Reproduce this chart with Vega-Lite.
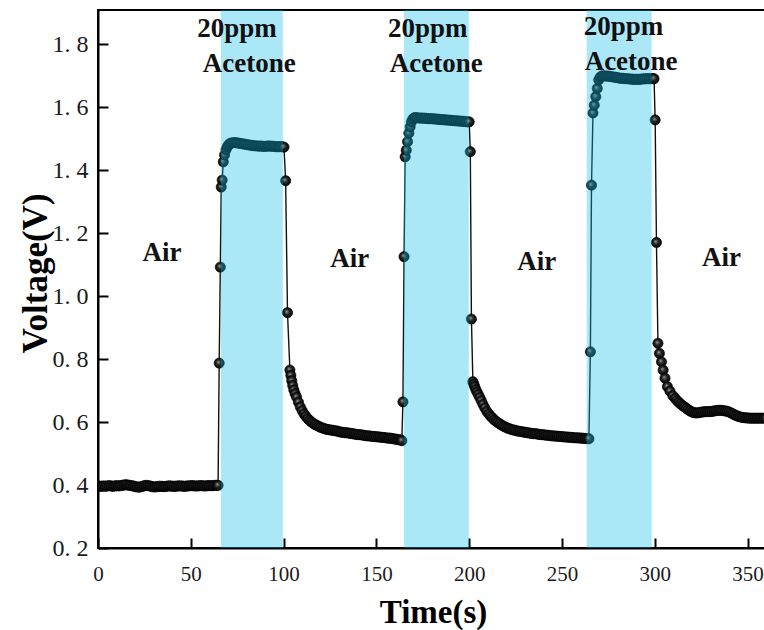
{
  "$schema": "https://vega.github.io/schema/vega-lite/v6.json",
  "width": 670,
  "height": 538,
  "autosize": {"type": "none"},
  "padding": {"left": 98, "top": 10, "right": 0, "bottom": 82},
  "background": "white",
  "config": {
    "font": "Liberation Serif",
    "view": {"stroke": "black", "strokeWidth": 2},
    "axis": {
      "zindex": 1,
      "grid": false,
      "domainColor": "black",
      "domainWidth": 2,
      "tickColor": "black",
      "tickWidth": 2,
      "tickSize": -10,
      "labelFlush": false,
      "labelColor": "#1a1a1a",
      "labelFont": "Liberation Serif",
      "titleFont": "Liberation Serif",
      "titleFontWeight": "bold",
      "titleColor": "black"
    }
  },
  "datasets": {
    "signal": [
      {"t":0,"v":0.397},{"t":1,"v":0.396},{"t":2,"v":0.396},{"t":3,"v":0.397},{"t":4,"v":0.396},{"t":5,"v":0.397},{"t":6,"v":0.398},{"t":7,"v":0.397},{"t":8,"v":0.396},{"t":9,"v":0.397},
      {"t":10,"v":0.398},{"t":11,"v":0.397},{"t":12,"v":0.398},{"t":13,"v":0.399},{"t":14,"v":0.4},{"t":15,"v":0.401},{"t":16,"v":0.4},{"t":17,"v":0.399},{"t":18,"v":0.398},{"t":19,"v":0.397},
      {"t":20,"v":0.395},{"t":21,"v":0.394},{"t":22,"v":0.393},{"t":23,"v":0.394},{"t":24,"v":0.396},{"t":25,"v":0.398},{"t":26,"v":0.399},{"t":27,"v":0.398},{"t":28,"v":0.397},{"t":29,"v":0.395},
      {"t":30,"v":0.394},{"t":31,"v":0.394},{"t":32,"v":0.395},{"t":33,"v":0.396},{"t":34,"v":0.396},{"t":35,"v":0.395},{"t":36,"v":0.395},{"t":37,"v":0.396},{"t":38,"v":0.397},{"t":39,"v":0.397},
      {"t":40,"v":0.396},{"t":41,"v":0.396},{"t":42,"v":0.396},{"t":43,"v":0.397},{"t":44,"v":0.397},{"t":45,"v":0.397},{"t":46,"v":0.396},{"t":47,"v":0.396},{"t":48,"v":0.397},{"t":49,"v":0.397},
      {"t":50,"v":0.398},{"t":51,"v":0.398},{"t":52,"v":0.397},{"t":53,"v":0.397},{"t":54,"v":0.397},{"t":55,"v":0.398},{"t":56,"v":0.398},{"t":57,"v":0.397},{"t":58,"v":0.397},{"t":59,"v":0.398},
      {"t":60,"v":0.398},{"t":61,"v":0.398},{"t":62,"v":0.398},{"t":63,"v":0.399},{"t":64,"v":0.399},
      {"t":64.7,"v":0.399},{"t":65.3,"v":0.787},{"t":65.9,"v":1.092},{"t":66.4,"v":1.346},{"t":66.9,"v":1.368},{"t":67.5,"v":1.426},{"t":68.2,"v":1.448},{"t":69,"v":1.465},{"t":69.7,"v":1.474},
      {"t":70.3,"v":1.479},{"t":71,"v":1.484},{"t":72,"v":1.486},{"t":73,"v":1.487},{"t":74,"v":1.487},{"t":75,"v":1.486},{"t":76,"v":1.485},{"t":77,"v":1.484},{"t":78,"v":1.483},{"t":79,"v":1.482},
      {"t":80,"v":1.481},{"t":81,"v":1.48},{"t":82,"v":1.479},{"t":83,"v":1.478},{"t":84,"v":1.477},{"t":85,"v":1.477},{"t":86,"v":1.476},{"t":87,"v":1.476},{"t":88,"v":1.476},{"t":89,"v":1.475},
      {"t":90,"v":1.475},{"t":91,"v":1.476},{"t":92,"v":1.476},{"t":93,"v":1.476},{"t":94,"v":1.475},{"t":95,"v":1.475},{"t":96,"v":1.474},{"t":97,"v":1.474},{"t":98,"v":1.474},{"t":99,"v":1.474},
      {"t":100.2,"v":1.473},{"t":101.1,"v":1.366},{"t":102.1,"v":0.947},
      {"t":103.4,"v":0.765},{"t":103.9,"v":0.748},{"t":104.4,"v":0.731},{"t":104.9,"v":0.716},{"t":105.5,"v":0.702},{"t":106.2,"v":0.69},{"t":107,"v":0.679},{"t":108,"v":0.663},{"t":109,"v":0.648},
      {"t":110,"v":0.636},{"t":111,"v":0.626},{"t":112,"v":0.618},{"t":113,"v":0.611},{"t":114,"v":0.605},{"t":115,"v":0.6},{"t":116,"v":0.596},{"t":117,"v":0.592},{"t":118,"v":0.589},{"t":119,"v":0.586},
      {"t":120,"v":0.583},{"t":121,"v":0.581},{"t":122,"v":0.579},{"t":123,"v":0.577},{"t":124,"v":0.576},{"t":125,"v":0.575},{"t":126,"v":0.574},{"t":127,"v":0.573},{"t":128,"v":0.572},{"t":129,"v":0.571},
      {"t":130,"v":0.569},{"t":131,"v":0.568},{"t":132,"v":0.567},{"t":133,"v":0.566},{"t":134,"v":0.566},{"t":135,"v":0.565},{"t":136,"v":0.564},{"t":137,"v":0.563},{"t":138,"v":0.562},{"t":139,"v":0.561},
      {"t":140,"v":0.56},{"t":141,"v":0.56},{"t":142,"v":0.559},{"t":143,"v":0.558},{"t":144,"v":0.557},{"t":145,"v":0.556},{"t":146,"v":0.556},{"t":147,"v":0.555},{"t":148,"v":0.554},{"t":149,"v":0.554},
      {"t":150,"v":0.553},{"t":151,"v":0.553},{"t":152,"v":0.552},{"t":153,"v":0.551},{"t":154,"v":0.551},{"t":155,"v":0.55},{"t":156,"v":0.549},{"t":157,"v":0.549},{"t":158,"v":0.548},{"t":159,"v":0.547},
      {"t":160,"v":0.546},{"t":161,"v":0.545},{"t":162,"v":0.544},{"t":163,"v":0.543},
      {"t":163.7,"v":0.541},{"t":164.3,"v":0.664},{"t":164.9,"v":1.125},{"t":165.5,"v":1.442},{"t":166.1,"v":1.463},{"t":166.8,"v":1.49},{"t":167.5,"v":1.517},{"t":168.2,"v":1.537},{"t":168.9,"v":1.553},{"t":169.6,"v":1.562},{"t":170.5,"v":1.566},
      {"t":171,"v":1.566},{"t":172,"v":1.566},{"t":173,"v":1.565},{"t":174,"v":1.565},{"t":175,"v":1.565},{"t":176,"v":1.564},{"t":177,"v":1.564},{"t":178,"v":1.563},{"t":179,"v":1.563},
      {"t":180,"v":1.563},{"t":181,"v":1.562},{"t":182,"v":1.562},{"t":183,"v":1.561},{"t":184,"v":1.561},{"t":185,"v":1.56},{"t":186,"v":1.56},{"t":187,"v":1.559},{"t":188,"v":1.559},{"t":189,"v":1.558},
      {"t":190,"v":1.558},{"t":191,"v":1.557},{"t":192,"v":1.557},{"t":193,"v":1.556},{"t":194,"v":1.556},{"t":195,"v":1.555},{"t":196,"v":1.555},{"t":197,"v":1.554},{"t":198,"v":1.554},{"t":199,"v":1.553},
      {"t":200,"v":1.553},{"t":200.6,"v":1.458},{"t":201.2,"v":0.927},
      {"t":202,"v":0.728},{"t":202.5,"v":0.72},{"t":203,"v":0.712},{"t":203.6,"v":0.703},{"t":204.2,"v":0.695},{"t":204.9,"v":0.687},{"t":205.7,"v":0.678},{"t":206.5,"v":0.668},{"t":207.4,"v":0.656},{"t":208.4,"v":0.645},
      {"t":209.5,"v":0.634},{"t":210.5,"v":0.626},{"t":211.5,"v":0.619},{"t":212.5,"v":0.613},{"t":213.5,"v":0.607},{"t":214.5,"v":0.602},{"t":215.5,"v":0.598},{"t":216.5,"v":0.594},{"t":217.5,"v":0.59},{"t":218.5,"v":0.587},
      {"t":219.5,"v":0.584},{"t":220.5,"v":0.581},{"t":221.5,"v":0.579},{"t":222.5,"v":0.577},{"t":223.5,"v":0.575},{"t":224.5,"v":0.574},{"t":225.5,"v":0.572},{"t":226.5,"v":0.571},{"t":227.5,"v":0.57},{"t":228.5,"v":0.569},
      {"t":229.5,"v":0.568},{"t":230.5,"v":0.567},{"t":231.5,"v":0.566},{"t":232.5,"v":0.565},{"t":233.5,"v":0.564},{"t":234.5,"v":0.563},{"t":235.5,"v":0.563},{"t":236.5,"v":0.562},{"t":237.5,"v":0.561},{"t":238.5,"v":0.56},
      {"t":239.5,"v":0.56},{"t":240.5,"v":0.559},{"t":241.5,"v":0.558},{"t":242.5,"v":0.558},{"t":243.5,"v":0.557},{"t":244.5,"v":0.556},{"t":245.5,"v":0.556},{"t":246.5,"v":0.555},{"t":247.5,"v":0.555},{"t":248.5,"v":0.554},
      {"t":249.5,"v":0.554},{"t":250.5,"v":0.553},{"t":251.5,"v":0.553},{"t":252.5,"v":0.552},{"t":253.5,"v":0.552},{"t":254.5,"v":0.551},{"t":255.5,"v":0.551},{"t":256.5,"v":0.55},{"t":257.5,"v":0.55},{"t":258.5,"v":0.55},
      {"t":259.5,"v":0.549},{"t":260.5,"v":0.549},{"t":261.5,"v":0.548},{"t":262.5,"v":0.548},{"t":263.5,"v":0.547},{"t":264.5,"v":0.547},
      {"t":265.3,"v":0.823},{"t":265.9,"v":1.352},{"t":266.7,"v":1.581},{"t":267.4,"v":1.606},{"t":268.2,"v":1.633},{"t":269,"v":1.659},{"t":269.8,"v":1.686},{"t":270.6,"v":1.695},{"t":271.4,"v":1.698},
      {"t":272,"v":1.699},{"t":273,"v":1.699},{"t":274,"v":1.698},{"t":275,"v":1.698},{"t":276,"v":1.697},{"t":277,"v":1.696},{"t":278,"v":1.695},{"t":279,"v":1.694},
      {"t":280,"v":1.693},{"t":281,"v":1.692},{"t":282,"v":1.691},{"t":283,"v":1.691},{"t":284,"v":1.69},{"t":285,"v":1.69},{"t":286,"v":1.689},{"t":287,"v":1.689},{"t":288,"v":1.688},{"t":289,"v":1.688},
      {"t":290,"v":1.688},{"t":291,"v":1.688},{"t":292,"v":1.688},{"t":293,"v":1.689},{"t":294,"v":1.689},{"t":295,"v":1.69},{"t":296,"v":1.69},{"t":297,"v":1.69},{"t":298,"v":1.69},{"t":299,"v":1.69},
      {"t":299.6,"v":1.69},{"t":300.2,"v":1.559},{"t":300.9,"v":1.17},
      {"t":301.7,"v":0.85},{"t":302.5,"v":0.818},{"t":303.6,"v":0.791},{"t":304.5,"v":0.765},{"t":305.5,"v":0.739},{"t":306.8,"v":0.712},{"t":308.2,"v":0.698},{"t":309.7,"v":0.684},
      {"t":311,"v":0.675},{"t":312,"v":0.668},{"t":313,"v":0.662},{"t":314,"v":0.657},{"t":315,"v":0.652},{"t":316,"v":0.648},{"t":317,"v":0.643},{"t":318,"v":0.639},{"t":319,"v":0.635},
      {"t":320,"v":0.632},{"t":321,"v":0.63},{"t":322,"v":0.629},{"t":323,"v":0.629},{"t":324,"v":0.63},{"t":325,"v":0.631},{"t":326,"v":0.632},{"t":327,"v":0.633},{"t":328,"v":0.633},{"t":329,"v":0.633},
      {"t":330,"v":0.633},{"t":331,"v":0.634},{"t":332,"v":0.635},{"t":333,"v":0.636},{"t":334,"v":0.637},{"t":335,"v":0.637},{"t":336,"v":0.637},{"t":337,"v":0.636},{"t":338,"v":0.635},{"t":339,"v":0.634},
      {"t":340,"v":0.632},{"t":341,"v":0.629},{"t":342,"v":0.626},{"t":343,"v":0.623},{"t":344,"v":0.62},{"t":345,"v":0.618},{"t":346,"v":0.616},{"t":347,"v":0.615},{"t":348,"v":0.614},{"t":349,"v":0.613},
      {"t":350,"v":0.613},{"t":351,"v":0.612},{"t":352,"v":0.612},{"t":353,"v":0.612},{"t":354,"v":0.612},{"t":355,"v":0.612},{"t":356,"v":0.612},{"t":357,"v":0.612},{"t":358,"v":0.612},{"t":359,"v":0.612},
      {"t":360,"v":0.613}
    ],
    "exposures": [
      {"start": 66.2, "end": 99.6},
      {"start": 164.8, "end": 199.8},
      {"start": 263.3, "end": 298.3}
    ],
    "airNotes": [
      {"t": 34.5, "v": 1.137, "label": "Air"},
      {"t": 135.7, "v": 1.119, "label": "Air"},
      {"t": 236.4, "v": 1.108, "label": "Air"},
      {"t": 336, "v": 1.12, "label": "Air"}
    ],
    "gasNotes": [
      {"t": 53.5, "v": 1.822, "label": "20ppm"},
      {"t": 56.5, "v": 1.711, "label": "Acetone"},
      {"t": 156.2, "v": 1.822, "label": "20ppm"},
      {"t": 157.2, "v": 1.711, "label": "Acetone"},
      {"t": 261.7, "v": 1.829, "label": "20ppm"},
      {"t": 262.2, "v": 1.717, "label": "Acetone"}
    ]
  },
  "layer": [
    {
      "data": {"name": "signal"},
      "mark": {"type": "line", "color": "#111111", "strokeWidth": 1.4, "clip": true},
      "encoding": {
        "x": {
          "field": "t", "type": "quantitative",
          "scale": {"domain": [0, 361], "nice": false, "zero": false},
          "axis": {
            "values": [0, 50, 100, 150, 200, 250, 300, 350],
            "labelFontSize": 21,
            "labelPadding": 25,
            "labelFlush": false,
            "title": "Time(s)",
            "titleFontSize": 33,
            "titleY": 74,
            "titleBaseline": "alphabetic"
          }
        },
        "y": {
          "field": "v", "type": "quantitative",
          "scale": {"domain": [0.2, 1.908], "nice": false, "zero": false},
          "axis": {
            "values": [0.2, 0.4, 0.6, 0.8, 1.0, 1.2, 1.4, 1.6, 1.8],
            "labelExpr": "replace(format(datum.value, '.1f'), '.', '. ')",
            "labelFontSize": 24,
            "labelPadding": 20,
            "labelFlush": false,
            "title": "Voltage(V)",
            "titleFontSize": 35,
            "titleAngle": -90,
            "titleX": -63,
            "titleY": 263,
            "titleAlign": "center",
            "titleBaseline": "middle"
          }
        }
      }
    },
    {
      "data": {"name": "signal"},
      "mark": {
        "type": "point", "filled": true, "size": 105, "clip": true, "opacity": 1,
        "fill": {
          "gradient": "radial",
          "x1": 0.4, "y1": 0.38, "r1": 0,
          "x2": 0.5, "y2": 0.5, "r2": 0.5,
          "stops": [
            {"offset": 0, "color": "#a0a0a0"},
            {"offset": 0.45, "color": "#2a2a2a"},
            {"offset": 1, "color": "#050505"}
          ]
        },
        "stroke": "#000000", "strokeWidth": 0.6
      },
      "encoding": {
        "x": {"field": "t", "type": "quantitative"},
        "y": {"field": "v", "type": "quantitative"}
      }
    },
    {
      "data": {"name": "exposures"},
      "mark": {"type": "rect", "color": "#0cbdeb", "opacity": 0.35},
      "encoding": {
        "x": {"field": "start", "type": "quantitative"},
        "x2": {"field": "end"}
      }
    },
    {
      "data": {"name": "airNotes"},
      "mark": {"type": "text", "font": "Liberation Serif", "fontWeight": "bold", "fontSize": 27, "color": "#111111", "align": "center", "baseline": "middle"},
      "encoding": {
        "x": {"field": "t", "type": "quantitative"},
        "y": {"field": "v", "type": "quantitative"},
        "text": {"field": "label"}
      }
    },
    {
      "data": {"name": "gasNotes"},
      "mark": {"type": "text", "font": "Liberation Serif", "fontWeight": "bold", "fontSize": 27, "color": "#111111", "align": "left", "baseline": "alphabetic"},
      "encoding": {
        "x": {"field": "t", "type": "quantitative"},
        "y": {"field": "v", "type": "quantitative"},
        "text": {"field": "label"}
      }
    }
  ]
}
